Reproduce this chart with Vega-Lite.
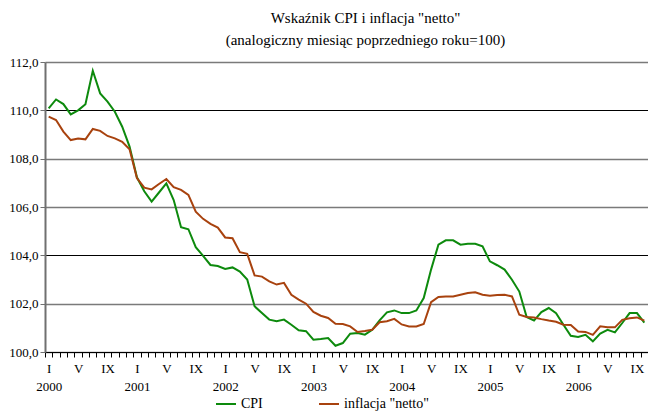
{
  "$schema": "https://vega.github.io/schema/vega-lite/v6.json",
  "autosize": "none",
  "width": 603,
  "height": 290,
  "padding": {"left": 45, "top": 62, "right": 0, "bottom": 60},
  "background": "white",
  "title": {
    "text": ["Wskaźnik CPI i inflacja \"netto\"", "(analogiczny miesiąc poprzedniego roku=100)"],
    "font": "Liberation Serif",
    "fontSize": 15,
    "fontWeight": "normal",
    "color": "#000",
    "lineHeight": 22,
    "anchor": "middle",
    "dx": 19,
    "offset": 8
  },
  "config": {"view": {"stroke": null}, "font": "Liberation Serif"},
  "data": {"values": [
    {"m":"2000-01","cpi":110.08,"netto":109.74},
    {"m":"2000-02","cpi":110.45,"netto":109.60},
    {"m":"2000-03","cpi":110.26,"netto":109.12},
    {"m":"2000-04","cpi":109.83,"netto":108.77},
    {"m":"2000-05","cpi":110.00,"netto":108.83},
    {"m":"2000-06","cpi":110.25,"netto":108.80},
    {"m":"2000-07","cpi":111.64,"netto":109.23},
    {"m":"2000-08","cpi":110.70,"netto":109.15},
    {"m":"2000-09","cpi":110.36,"netto":108.94},
    {"m":"2000-10","cpi":109.94,"netto":108.84},
    {"m":"2000-11","cpi":109.32,"netto":108.70},
    {"m":"2000-12","cpi":108.50,"netto":108.39},
    {"m":"2001-01","cpi":107.23,"netto":107.20},
    {"m":"2001-02","cpi":106.65,"netto":106.80},
    {"m":"2001-03","cpi":106.22,"netto":106.73},
    {"m":"2001-04","cpi":106.60,"netto":106.95},
    {"m":"2001-05","cpi":106.98,"netto":107.16},
    {"m":"2001-06","cpi":106.29,"netto":106.82},
    {"m":"2001-07","cpi":105.16,"netto":106.71},
    {"m":"2001-08","cpi":105.08,"netto":106.50},
    {"m":"2001-09","cpi":104.34,"netto":105.81},
    {"m":"2001-10","cpi":103.98,"netto":105.51},
    {"m":"2001-11","cpi":103.60,"netto":105.30},
    {"m":"2001-12","cpi":103.56,"netto":105.15},
    {"m":"2002-01","cpi":103.44,"netto":104.74},
    {"m":"2002-02","cpi":103.50,"netto":104.71},
    {"m":"2002-03","cpi":103.33,"netto":104.13},
    {"m":"2002-04","cpi":103.00,"netto":104.06},
    {"m":"2002-05","cpi":101.89,"netto":103.17},
    {"m":"2002-06","cpi":101.61,"netto":103.12},
    {"m":"2002-07","cpi":101.34,"netto":102.92},
    {"m":"2002-08","cpi":101.27,"netto":102.79},
    {"m":"2002-09","cpi":101.34,"netto":102.86},
    {"m":"2002-10","cpi":101.13,"netto":102.37},
    {"m":"2002-11","cpi":100.90,"netto":102.17},
    {"m":"2002-12","cpi":100.86,"netto":102.00},
    {"m":"2003-01","cpi":100.51,"netto":101.66},
    {"m":"2003-02","cpi":100.54,"netto":101.50},
    {"m":"2003-03","cpi":100.58,"netto":101.41},
    {"m":"2003-04","cpi":100.26,"netto":101.17},
    {"m":"2003-05","cpi":100.37,"netto":101.16},
    {"m":"2003-06","cpi":100.76,"netto":101.06},
    {"m":"2003-07","cpi":100.79,"netto":100.83},
    {"m":"2003-08","cpi":100.72,"netto":100.87},
    {"m":"2003-09","cpi":100.92,"netto":100.92},
    {"m":"2003-10","cpi":101.31,"netto":101.23},
    {"m":"2003-11","cpi":101.64,"netto":101.27},
    {"m":"2003-12","cpi":101.72,"netto":101.37},
    {"m":"2004-01","cpi":101.61,"netto":101.14},
    {"m":"2004-02","cpi":101.61,"netto":101.06},
    {"m":"2004-03","cpi":101.72,"netto":101.06},
    {"m":"2004-04","cpi":102.23,"netto":101.16},
    {"m":"2004-05","cpi":103.41,"netto":102.06},
    {"m":"2004-06","cpi":104.44,"netto":102.28},
    {"m":"2004-07","cpi":104.62,"netto":102.30},
    {"m":"2004-08","cpi":104.62,"netto":102.30},
    {"m":"2004-09","cpi":104.44,"netto":102.37},
    {"m":"2004-10","cpi":104.48,"netto":102.44},
    {"m":"2004-11","cpi":104.48,"netto":102.47},
    {"m":"2004-12","cpi":104.37,"netto":102.37},
    {"m":"2005-01","cpi":103.75,"netto":102.33},
    {"m":"2005-02","cpi":103.59,"netto":102.36},
    {"m":"2005-03","cpi":103.41,"netto":102.37},
    {"m":"2005-04","cpi":102.99,"netto":102.30},
    {"m":"2005-05","cpi":102.50,"netto":101.54},
    {"m":"2005-06","cpi":101.45,"netto":101.45},
    {"m":"2005-07","cpi":101.30,"netto":101.43},
    {"m":"2005-08","cpi":101.65,"netto":101.36},
    {"m":"2005-09","cpi":101.82,"netto":101.30},
    {"m":"2005-10","cpi":101.61,"netto":101.25},
    {"m":"2005-11","cpi":101.13,"netto":101.13},
    {"m":"2005-12","cpi":100.67,"netto":101.12},
    {"m":"2006-01","cpi":100.62,"netto":100.85},
    {"m":"2006-02","cpi":100.71,"netto":100.83},
    {"m":"2006-03","cpi":100.44,"netto":100.71},
    {"m":"2006-04","cpi":100.76,"netto":101.06},
    {"m":"2006-05","cpi":100.92,"netto":101.02},
    {"m":"2006-06","cpi":100.81,"netto":101.02},
    {"m":"2006-07","cpi":101.20,"netto":101.33},
    {"m":"2006-08","cpi":101.61,"netto":101.40},
    {"m":"2006-09","cpi":101.61,"netto":101.43},
    {"m":"2006-10","cpi":101.22,"netto":101.30}
  ]},
  "encoding": {
    "x": {
      "field": "m", "type": "ordinal",
      "scale": {"type": "point", "padding": 0.5},
      "axis": {
        "title": null, "grid": false,
        "domainColor": "#000", "domainWidth": 1,
        "tickColor": "#000", "tickSize": 5, "tickWidth": 1,
        "tickOffset": -3.677, "labelOffset": 3.677,
        "labelExpr": "slice(datum.value,5)=='01' ? ['I', slice(datum.value,0,4)] : slice(datum.value,5)=='05' ? 'V' : slice(datum.value,5)=='09' ? 'IX' : ''",
        "labelOverlap": false, "labelAngle": 0, "labelBaseline": "top",
        "labelFont": "Liberation Serif", "labelFontSize": 13, "labelColor": "#000",
        "labelPadding": 5, "labelLineHeight": 18
      }
    }
  },
  "layer": [
    {
      "mark": {"type": "line", "strokeWidth": 2},
      "encoding": {
        "y": {
          "field": "cpi", "type": "quantitative",
          "scale": {"domain": [100, 112], "nice": false, "zero": false},
          "axis": {
            "title": null,
            "values": [100, 102, 104, 106, 108, 110, 112],
            "labelExpr": "replace(format(datum.value, '.1f'), '.', ',')",
            "grid": true,
            "gridColor": {"condition": {"test": "datum.value == 104 || datum.value == 110", "value": "#000"}, "value": "#7a7a7a"},
            "gridWidth": {"condition": {"test": "datum.value == 104 || datum.value == 110", "value": 1}, "value": 1.5},
            "domainColor": "#707070", "domainWidth": 2,
            "tickColor": "#707070", "tickSize": 5,
            "labelFont": "Liberation Serif", "labelFontSize": 13, "labelColor": "#000",
            "labelPadding": 2
          }
        },
        "color": {
          "datum": "CPI",
          "scale": {"domain": ["CPI", "inflacja \"netto\""], "range": ["#0d8a0d", "#a8420e"]},
          "legend": {
            "title": null, "orient": "none", "direction": "horizontal",
            "legendX": 170, "legendY": 331,
            "symbolType": "stroke", "symbolSize": 400, "symbolStrokeWidth": 2,
            "labelFont": "Liberation Serif", "labelFontSize": 14, "labelColor": "#000",
            "columnPadding": 52, "labelOffset": 4
          }
        }
      }
    },
    {
      "mark": {"type": "line", "strokeWidth": 2},
      "encoding": {
        "y": {"field": "netto", "type": "quantitative"},
        "color": {"datum": "inflacja \"netto\""}
      }
    }
  ]
}
